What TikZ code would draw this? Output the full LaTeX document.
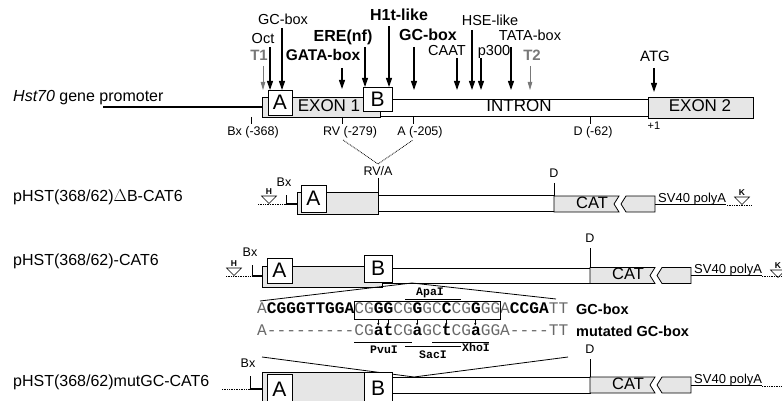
\documentclass[tikz,border=0pt]{standalone}
\usepackage{fontspec}
\setmainfont{Liberation Sans}
\newfontfamily\seqfont[Ligatures=TeXOff]{Liberation Mono}
\usetikzlibrary{arrows.meta,positioning,calc}
\definecolor{exgray}{RGB}{230,230,230}
\definecolor{tgray}{RGB}{120,120,120}
\definecolor{sqgray}{RGB}{105,105,105}
\newcommand\fsz[1]{\fontsize{#1}{#1}\selectfont}

\begin{document}
\begin{tikzpicture}[x=1pt,y=-1pt,
  lbl/.style={inner sep=0pt,text height=0.72em,text depth=0pt},
  site/.style={line width=1.1pt,-{Triangle[length=9pt,width=6pt]}},
  tsite/.style={tgray,line width=0.8pt,-{Triangle[length=8pt,width=4.5pt]}},
  exon/.style={draw,line width=0.8pt,fill=exgray},
  intr/.style={draw,line width=0.8pt,fill=white},
  dombox/.style={draw,line width=0.8pt,fill=white,inner sep=0pt,font=\fsz{21}},
  tick/.style={line width=0.7pt},
  dots/.style={line width=0.8pt,dash pattern=on 0.8pt off 0.9pt},
  rsite/.style={font=\seqfont\bfseries\fsz{11.5},lbl}]
\useasboundingbox (0,0) rectangle (782,401);

% wild-type gene
\node[lbl,anchor=west,font=\fsz{16}] (hst) at (13,98) {\textit{Hst70} gene promoter};
\coordinate (prom-l) at (103,107);
\coordinate (prom-r) at (262,107);
\draw[line width=2.6pt] (prom-l) -- (prom-r);
\draw[exon] (262,97) rectangle (380,117);
\draw[intr] (380,99) rectangle (648,116);
\draw[exon] (648,97) rectangle (753,118);
\node[dombox,minimum width=24pt,minimum height=25pt] (a1) at (280,102.5) {A};
\node[dombox,minimum width=29pt,minimum height=24pt] (b1) at (377.5,99) {B};
\node[lbl,font=\fsz{17}] (ex1) at (329,107.5) {EXON 1};
\node[lbl,font=\fsz{17}] (intron) at (519,108) {INTRON};
\node[lbl,font=\fsz{17}] (ex2) at (700,108) {EXON 2};
\node[lbl,font=\fsz{11}] (plus1) at (654,126) {+1};

% binding sites
\foreach \nm/\x/\ya/\yb in {oct/270/47/90, gca/282/28/90, gata/342/68/89, ere/365/47/87,
    hlt/389/26/87, gcb/414/47/90, caat/457/58/90, hse/472/30/90, ptr/481/58/90,
    tata/511/47/90, atg/654/68/92} {
  \coordinate (\nm-t) at (\x,\ya);
  \coordinate (\nm-h) at (\x,\yb);
  \draw[site] (\nm-t) -- (\nm-h);
}
\foreach \nm/\x in {ta/263, tb/530} {
  \coordinate (\nm-t) at (\x,66);
  \coordinate (\nm-h) at (\x,90);
  \draw[tsite] (\nm-t) -- (\nm-h);
}
\node[lbl,font=\fsz{15}\bfseries,text=tgray] (t1) at (259,57) {T1};
\node[lbl,font=\fsz{15}\bfseries,text=tgray] (t2) at (532,57) {T2};
\node[lbl,font=\fsz{14.5}] (oct) at (263,40) {Oct};
\node[lbl,font=\fsz{14.5}] (gca) at (283,21) {GC-box};
\node[lbl,font=\fsz{15.5}\bfseries] (gata) at (323,57) {GATA-box};
\node[lbl,font=\fsz{16}\bfseries] (ere) at (343,38) {ERE(nf)};
\node[lbl,font=\fsz{16}\bfseries] (hlt) at (399,17) {H1t-like};
\node[lbl,font=\fsz{16}\bfseries] (gcb) at (428,37) {GC-box};
\node[lbl,font=\fsz{14.5}] (caat) at (447,52) {CAAT};
\node[lbl,font=\fsz{14.5}] (hse) at (490,22) {HSE-like};
\node[lbl,font=\fsz{14.5}] (ptr) at (494,52) {p300};
\node[lbl,font=\fsz{14.5}] (tata) at (530,37) {TATA-box};
\node[lbl,font=\fsz{15}] (atg) at (655,58) {ATG};

% restriction ticks
\foreach \nm/\x/\lx/\t in {bx/251/253/Bx (-368), rv/342/350/RV (-279), ap/413/420/A (-205), dd/590/593/D (-62)} {
  \coordinate (\nm-a) at (\x,117);
  \coordinate (\nm-b) at (\x,124);
  \draw[tick] (\nm-a) -- (\nm-b);
  \node[lbl,font=\fsz{12.5}] (\nm-l) at (\lx,132) {\t};
}
\coordinate (v-l) at (343,140);
\coordinate (v-m) at (378,164);
\coordinate (v-r) at (413,140);
\draw[dots] (v-l) -- (v-m) -- (v-r);

% construct labels
\node[lbl,anchor=west,font=\fsz{16}] (dB) at (13,198) {pHST(368/62)$\Delta$B-CAT6};
\node[lbl,anchor=west,font=\fsz{16}] (wt) at (13,262) {pHST(368/62)-CAT6};
\node[lbl,anchor=west,font=\fsz{16}] (mut) at (13,383) {pHST(368/62)mutGC-CAT6};

% H / K sites
\foreach \nm/\x/\y/\t in {h2/269/196/H, k2/742/197/K, h3/234/268/H, k3/778/270/K} {
  \draw[line width=0.6pt] (\x-7.5,\y) -- (\x+7.5,\y) -- (\x,\y+7.5) -- cycle;
  \node[lbl,font=\fsz{8.5}\bfseries] (\nm) at (\x,\y-4.8) {\t};
}
\draw[dots] (258,204) -- (286,204);
\draw[dots] (727,205) -- (751,205);
\draw[dots] (226,276) -- (252,276);
\draw[dots] (762,276) -- (782,276);
\draw[dots] (222,389) -- (250,389);
\draw[dots] (762,386) -- (782,386);

% Bx ends
\foreach \nm/\x/\ya/\yb/\xe in {bx2/286/195/204/297, bx3/252/265/276/262, bx4/250/376/389/262} {
  \coordinate (\nm-t) at (\x,\ya);
  \coordinate (\nm-c) at (\x,\yb);
  \coordinate (\nm-e) at (\xe,\yb);
  \draw[line width=0.6pt] (\nm-t) -- (\nm-c);
  \draw[line width=2.6pt] ($(\nm-c)+(-0.3,0)$) -- (\nm-e);
  \node[lbl,font=\fsz{12.5}] (\nm) at (\x-2,\ya-12) {Bx};
}

% delta B construct
\draw[exon] (297,192) rectangle (378,214);
\draw[intr] (378,195) rectangle (554,211);
\node[dombox,minimum width=25pt,minimum height=27pt] (a2) at (313.5,198.5) {A};
\coordinate (rva-t) at (378,178);
\coordinate (rva-b) at (378,192);
\draw[tick] (rva-t) -- (rva-b);
\node[lbl,font=\fsz{12.5}] (rva) at (378,172) {RV/A};

% wild-type construct
\draw[exon] (262,266) rectangle (382,287);
\draw[intr] (382,268) rectangle (590,283);
\node[dombox,minimum width=25pt,minimum height=25pt] (a3) at (279.5,270.5) {A};
\node[dombox,minimum width=28pt,minimum height=27pt] (b3) at (378,268.5) {B};

% mutated construct
\coordinate (w-l) at (262,357);
\coordinate (w-r) at (568,357);
\coordinate (w-bot) at (414,377);
\draw[line width=0.8pt] (w-l) -- (w-bot) -- (w-r);
\draw[exon] (262,372) rectangle (382,412);
\draw[intr] (382,377) rectangle (590,393);
\node[dombox,minimum width=25pt,minimum height=30pt] (a4) at (279.5,389) {A};
\node[dombox,minimum width=28pt,minimum height=32pt] (b4) at (378,388) {B};

% D ticks
\foreach \nm/\x/\ya/\yb in {d2/554/183/196, d3/590/248/268, d4/590/359/377} {
  \coordinate (\nm-t) at (\x,\ya);
  \coordinate (\nm-b) at (\x,\yb);
  \draw[tick] (\nm-t) -- (\nm-b);
  \node[lbl,font=\fsz{12.5}] (\nm) at (\x,\ya-9) {D};
}

% CAT reporter and SV40 polyA
\foreach \nm/\cx/\cy in {c2/554/204, c3/590/275.5, c4/590/385} {
  \draw[exon] (\cx,\cy-8) -- (\cx+65,\cy-8) -- (\cx+60,\cy) -- (\cx+65,\cy+8) -- (\cx,\cy+8) -- cycle;
  \draw[exon] (\cx+72,\cy-8) -- (\cx+101,\cy-8) -- (\cx+101,\cy+8) -- (\cx+72,\cy+8) -- (\cx+67,\cy) -- cycle;
  \node[lbl,font=\fsz{16.5}] (\nm) at (\cx+38,\cy+0.5) {CAT};
  \coordinate (\nm-pa) at (\cx+101,\cy);
  \coordinate (\nm-pb) at (\cx+172,\cy);
  \draw[line width=0.7pt] (\nm-pa) -- (\nm-pb);
  \node[inner sep=0pt,anchor=base west,font=\fsz{13}] (\nm-sv) at (\cx+104,\cy-2) {SV40 polyA};
}

% zoom onto the GC-box
\coordinate (z-top) at (412,283);
\coordinate (z-l) at (260,301);
\coordinate (z-r) at (556,299);
\draw[line width=0.8pt] (z-l) -- (z-top) -- (z-r);

% sequences
\node[lbl,anchor=west,font=\seqfont\fsz{16.2}] (seqwt) at (257,310)
  {{\color{sqgray}A}\textbf{CGGGTTGGA}{\color{sqgray}CG}\textbf{GG}{\color{sqgray}CG}\textbf{G}{\color{sqgray}GC}\textbf{C}{\color{sqgray}CG}\textbf{G}{\color{sqgray}GGA}\textbf{CCGA}{\color{sqgray}TT}};
\node[lbl,anchor=west,font=\seqfont\fsz{16.2}] (seqmut) at (257,332)
  {{\color{sqgray}A---------CG}\textbf{at}{\color{sqgray}CG}\textbf{a}{\color{sqgray}GC}\textbf{t}{\color{sqgray}CG}\textbf{a}{\color{sqgray}GGA----TT}};
\draw[line width=0.7pt] (354,301) rectangle (500,319);
\foreach \p in {13,14,17,20,23} {
  \coordinate (m\p-t) at (257+\p*9.7-4.85,319);
  \coordinate (m\p-h) at (257+\p*9.7-4.85,325.5);
  \draw[line width=0.4pt,-{Stealth[length=2.5pt,width=2.2pt]}] (m\p-t) -- (m\p-h);
}
\node[lbl,anchor=west,font=\fsz{14.5}\bfseries] (gcl) at (576,311) {GC-box};
\node[lbl,anchor=west,font=\fsz{14.5}\bfseries] (mgcl) at (576,333) {mutated GC-box};

% restriction sites
\draw[line width=0.9pt] (405,299) -- (461,299);
\node[rsite] (apa) at (430,292) {ApaI};
\draw[line width=0.9pt] (354,342) -- (412,342);
\node[rsite] (pvu) at (384,350) {PvuI};
\draw[line width=0.9pt] (432,342) -- (489,342);
\node[rsite] (xho) at (476,348) {XhoI};
\draw[line width=0.9pt] (405,346) -- (461,346);
\node[rsite] (sac) at (433,355) {SacI};
\end{tikzpicture}
\end{document}
